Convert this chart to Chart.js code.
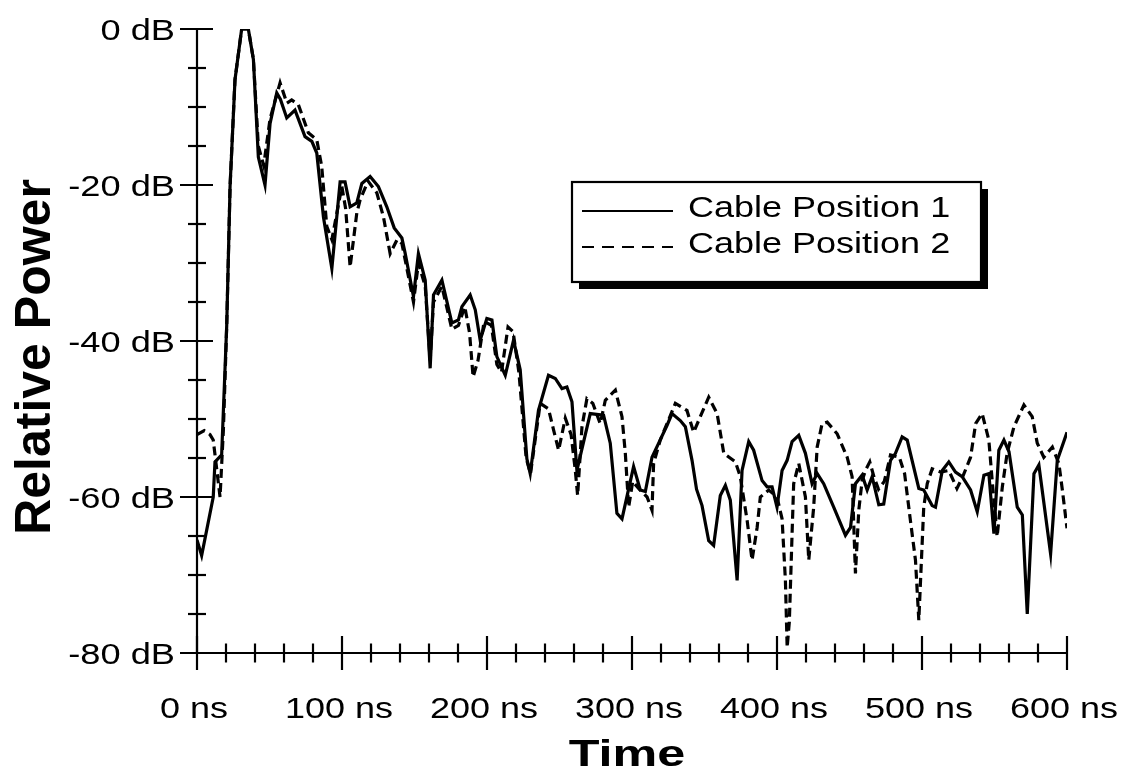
<!DOCTYPE html>
<html>
<head>
<meta charset="utf-8">
<script src="https://cdn.jsdelivr.net/npm/chart.js@4/dist/chart.umd.min.js"></script>
<style>
  html, body { margin: 0; padding: 0; background: #fff; }
  #wrap { width: 1126px; height: 776px; position: relative; }
</style>
</head>
<body>
<div id="wrap"><canvas id="powerChart"></canvas></div>
<script>
// Tiempos (ns) y potencia relativa (dB) de cada posicion del cable
var pos1Time = [0, 3.2, 11.2, 12.4, 17, 20.5, 22.8, 26.2, 30.8, 35.4, 38.9, 42.3, 46.9, 50.4, 55, 57.5, 61.9, 67.6, 74.5, 79.2,
  82.6, 87.2, 93, 98.7, 102.1, 105.6, 110.2, 113.7, 119.4, 125.1, 130.9, 136, 141.3, 143.5, 149.3, 152.7, 157.4, 160.8, 163.1, 168.9,
  175.8, 180.3, 182.7, 188.4, 191.9, 195.3, 199.9, 203.4, 206.8, 212.6, 218.3, 222.9, 227.5, 229.8, 235.5, 242.4, 247.1, 251.7, 255.1, 258.6,
  262, 271.2, 280.4, 285, 289.6, 293.1, 301.1, 305.7, 309.2, 313.8, 318.4, 324.2, 327.6, 333.3, 336.8, 341.4, 344.5, 348.3, 352.9, 356.3,
  360.9, 364.4, 367.8, 372.5, 375.9, 380.5, 383.9, 389.7, 393.2, 396.6, 400, 403.5, 407, 410.4, 415, 419.6, 424.2, 427.7, 432.2, 439.1,
  447.2, 450.7, 454.1, 458.7, 462.2, 465.6, 470.2, 473.6, 478.3, 481.7, 486.3, 489.8, 497.8, 501.2, 507, 509.3, 514, 518.5, 523.1, 527.7,
  533.5, 538.1, 542.7, 546.1, 549.6, 553, 556.5, 560, 565.7, 569.2, 572.6, 577.2, 580.6, 588.7, 593.3, 600];
var pos1Power = [-65.5, -67.5, -60, -55.5, -54.6, -38, -20.2, -6.5, 0, 0, -3.9, -16.4, -20, -12.1, -8.2, -9, -11.4, -10.4, -13.8, -14.4,
  -15.9, -24.1, -30.7, -19.6, -19.6, -22.8, -22.3, -19.8, -18.9, -20.2, -22.8, -25.5, -26.8, -28.7, -34.3, -28.8, -32.2, -43.5, -34.1, -32.2,
  -37.7, -37.3, -35.6, -34.1, -36, -39.9, -37.1, -37.3, -42, -44.4, -39.9, -43.7, -55.1, -57, -48.9, -44.4, -44.8, -46.1, -45.9, -47.8,
  -56.6, -49.3, -49.5, -53.1, -62.1, -62.8, -56.1, -59.1, -59.3, -54.9, -53.1, -50.8, -49.3, -50.2, -51, -55.3, -59, -61.1, -65.6, -66.2,
  -59.8, -58.5, -60.4, -70.7, -56.6, -52.9, -54, -57.9, -58.7, -58.7, -61.3, -56.6, -55.3, -52.9, -52.1, -54.4, -58.3, -57, -58.3, -61.3,
  -64.9, -63.9, -58.3, -57.2, -59.1, -57.4, -61, -60.9, -55.3, -54.4, -52.3, -52.7, -58.9, -59.1, -61.1, -61.3, -56.6, -55.5, -56.8, -57.4,
  -59.1, -61.9, -57.2, -57, -64.7, -54, -52.7, -54.2, -61.3, -62.3, -75, -57, -55.9, -67.3, -55.3, -51.7];

var pos2Time = [0, 5, 9, 11.2, 15.9, 18.2, 20.5, 22.8, 26.2, 30.8, 35.4, 38.9, 42.3, 46, 50.4, 57.3, 62, 65.3, 69.9, 76.8,
  82.6, 86, 89.5, 93, 99.9, 102.5, 105.6, 110.2, 112.5, 118, 124, 128.6, 133.2, 138, 141.3, 144, 149.3, 152.7, 157.4, 160.8,
  163.1, 168.9, 175.8, 180.3, 184.7, 188, 190.4, 193.8, 198, 203, 206.8, 210, 214.5, 218, 222, 227, 230, 236.7, 242.4, 245.9,
  249.4, 254, 258, 260.9, 262.5, 265.5, 268.9, 273, 278.1, 281.6, 288.5, 293.1, 295.4, 297.7, 300.5, 305, 310.4, 313.8, 314.9, 319.5,
  329.9, 337.9, 342.5, 347.1, 352.9, 358.7, 363.3, 371.3, 374.7, 379.4, 382.8, 386.3, 388.5, 394.3, 400, 403.5, 405.8, 407, 408.5, 410.4,
  411.5, 415, 419.6, 421.9, 425.3, 427.7, 431.1, 434.6, 441.5, 448.4, 451.8, 454.1, 456.4, 458.7, 461, 464, 467, 470, 474, 478.3,
  484.4, 488, 492, 495.5, 497.8, 501.2, 503.6, 507, 512.8, 518.5, 524.1, 528.1, 533.5, 537, 541.5, 546.1, 548.4, 551.8, 555.4, 558.7,
  563.4, 570.3, 576, 579.5, 584, 589.9, 594.4, 596.8, 600];
var pos2Power = [-52, -51.5, -52, -52.7, -60, -51.4, -38, -20.2, -6.5, 0, 0, -3.9, -15, -17.5, -11.5, -6.9, -9.5, -9.1, -9.7, -13.3,
  -14.2, -17.6, -25.3, -27, -20.2, -23, -30.5, -23.6, -21.9, -19.5, -21, -24.1, -28.8, -27, -27.5, -30, -35, -30, -33, -42.5,
  -35, -33, -38.5, -38, -35.6, -39, -44.6, -42.5, -37.5, -38, -43, -44, -38.2, -38.8, -44, -55, -57, -48, -48.7, -51.4,
  -54, -49.9, -52, -56.6, -59.8, -51, -47.4, -48, -50.6, -47.6, -46.3, -49.7, -54.4, -61.3, -58, -59, -60, -61.7, -55.7, -52.7,
  -48, -48.9, -51.7, -49.7, -47.2, -49.3, -54.4, -55.5, -57.4, -63, -68.1, -63.9, -60, -59.1, -60, -62.8, -70.7, -79.3, -76, -64.7,
  -58.3, -55.7, -60, -68.1, -61.3, -53.6, -50.6, -50.4, -51.9, -54.9, -57.4, -69.8, -61.7, -57.9, -56.6, -55.5, -57.5, -59, -58, -54.6,
  -54.9, -57, -63, -68.1, -75.8, -61.3, -58.3, -56.4, -56.8, -56.6, -58.9, -57.4, -54.9, -50.6, -49.3, -52.7, -57.9, -65.1, -58.7, -54.4,
  -51, -48.2, -49.7, -53.1, -54.9, -53.6, -55.7, -59.1, -64];

var seriesNames = ['Cable Position 1', 'Cable Position 2'];
var yTicks = [0, -20, -40, -60, -80];
var xTicks = [0, 100, 200, 300, 400, 500, 600];

var FONT = '"Liberation Sans", Arial, Helvetica, sans-serif';

function toPoints(times, values) {
  return times.map(function (t, i) { return { x: t, y: values[i] }; });
}

// Texto ensanchado en horizontal (la tipografia original es mas ancha)
function wideText(ctx, text, x, y, sx, align) {
  ctx.save();
  ctx.translate(x, y);
  ctx.scale(sx, 1);
  ctx.textAlign = align;
  ctx.fillText(text, 0, 0);
  ctx.restore();
}

function line(ctx, x1, y1, x2, y2) {
  ctx.beginPath();
  ctx.moveTo(x1, y1);
  ctx.lineTo(x2, y2);
  ctx.stroke();
}

// Ejes con marcas que cruzan la linea, etiquetas, titulos y leyenda con sombra
var axesPlugin = {
  id: 'axesPlugin',
  afterDraw: function (chart) {
    var ctx = chart.ctx;
    var xs = chart.scales.x, ys = chart.scales.y;
    var x0 = xs.getPixelForValue(0), x1 = xs.getPixelForValue(600);
    var yTop = ys.getPixelForValue(0), yBot = ys.getPixelForValue(-80);

    ctx.save();
    ctx.strokeStyle = '#000';
    ctx.fillStyle = '#000';
    ctx.lineWidth = 2.2;
    line(ctx, x0, yTop, x0, yBot);
    line(ctx, x0, yBot, x1, yBot);

    // marcas eje Y cada 5 dB
    for (var v = 0; v >= -80; v -= 5) {
      var py = ys.getPixelForValue(v);
      if (v % 20 === 0) line(ctx, x0 - 17, py, x0 + 16, py);
      else line(ctx, x0 - 9, py, x0 + 9, py);
    }
    // marcas eje X cada 20 ns
    for (var t = 0; t <= 600; t += 20) {
      var px = xs.getPixelForValue(t);
      if (t % 100 === 0) line(ctx, px, yBot - 17, px, yBot + 17);
      else line(ctx, px, yBot - 9.5, px, yBot + 9.5);
    }

    ctx.textBaseline = 'alphabetic';
    ctx.font = '29px ' + FONT;
    yTicks.forEach(function (v) {
      wideText(ctx, v + ' dB', x0 - 22, ys.getPixelForValue(v) + 11, 1.25, 'right');
    });
    ctx.font = '30px ' + FONT;
    xTicks.forEach(function (t) {
      wideText(ctx, t + ' ns', xs.getPixelForValue(t) - 3, yBot + 65, 1.2, 'center');
    });

    // titulos
    ctx.font = 'bold 37px ' + FONT;
    wideText(ctx, 'Time', 627, 766, 1.36, 'center');
    ctx.save();
    ctx.translate(50, 357);
    ctx.rotate(-Math.PI / 2);
    ctx.font = 'bold 50px ' + FONT;
    ctx.textAlign = 'center';
    ctx.fillText('Relative Power', 0, 0);
    ctx.restore();

    // leyenda
    var bx = 572, by = 182, bw = 409, bh = 100;
    ctx.fillRect(bx + 7, by + 7, bw, bh);
    ctx.fillStyle = '#fff';
    ctx.fillRect(bx, by, bw, bh);
    ctx.strokeRect(bx, by, bw, bh);
    ctx.fillStyle = '#000';
    chart.data.datasets.forEach(function (ds, i) {
      var ly = by + 29 + i * 36;
      ctx.save();
      ctx.lineWidth = 2;
      ctx.setLineDash(ds.borderDash.length ? [12, 8] : []);
      line(ctx, bx + 10, ly, bx + 101, ly);
      ctx.restore();
      ctx.font = '30px ' + FONT;
      wideText(ctx, ds.label, bx + 116, ly + 6, 1.2, 'left');
    });
    ctx.restore();
  }
};

var ctx = document.getElementById('powerChart').getContext('2d');
var powerChart = new Chart(ctx, {
  type: 'line',
  data: {
    datasets: [{
      label: seriesNames[0],
      data: toPoints(pos1Time, pos1Power),
      borderColor: '#000',
      borderWidth: 3.2,
      borderDash: [],
      pointRadius: 0,
      tension: 0,
      fill: false
    }, {
      label: seriesNames[1],
      data: toPoints(pos2Time, pos2Power),
      borderColor: '#000',
      borderWidth: 3.2,
      borderDash: [9, 5],
      pointRadius: 0,
      tension: 0,
      fill: false
    }]
  },
  options: {
    responsive: true,
    maintainAspectRatio: false,
    devicePixelRatio: 1,
    animation: false,
    layout: { padding: { left: 197, right: 59, top: 29, bottom: 123 } },
    plugins: { legend: { display: false }, tooltip: { enabled: false } },
    scales: {
      x: { type: 'linear', min: 0, max: 600, display: false },
      y: { type: 'linear', min: -80, max: 0, display: false }
    }
  },
  plugins: [axesPlugin]
});
</script>
</body>
</html>
